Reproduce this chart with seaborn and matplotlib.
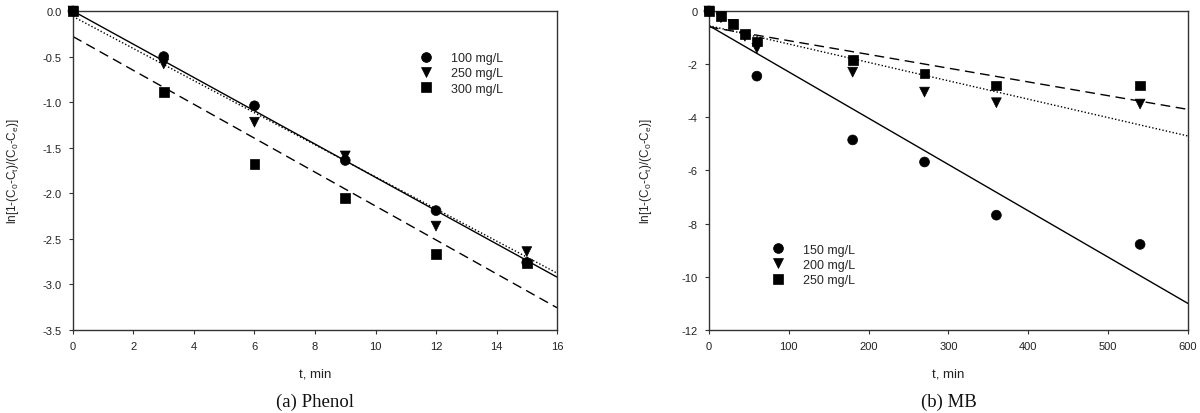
import numpy as np
import pandas as pd
import matplotlib
matplotlib.use("Agg")
import matplotlib.pyplot as plt
import seaborn as sns

# ---------------- data ----------------
# (a) Phenol
phenol_t = [0, 3, 6, 9, 12, 15]
phenol_labels = ["100 mg/L", "250 mg/L", "300 mg/L"]
phenol_100 = [0.0, -0.50, -1.04, -1.64, -2.19, -2.76]
phenol_250 = [0.0, -0.58, -1.22, -1.59, -2.36, -2.64]
phenol_300 = [0.0, -0.89, -1.68, -2.05, -2.67, -2.77]
phenol_intercepts = [0.0, -0.06, -0.28]
phenol_slopes = [-0.1825, -0.176, -0.186]

# (b) MB
mb_labels = ["150 mg/L", "200 mg/L", "250 mg/L"]
mb_t_150 = [0, 60, 180, 270, 360, 540]
mb_150 = [0.0, -2.45, -4.85, -5.68, -7.68, -8.78]
mb_t = [0, 15, 30, 45, 60, 180, 270, 360, 540]
mb_200 = [0.0, -0.25, -0.50, -0.95, -1.40, -2.30, -3.05, -3.45, -3.50]
mb_250 = [0.0, -0.20, -0.50, -0.85, -1.15, -1.85, -2.35, -2.80, -2.80]
mb_intercepts = [-0.55, -0.55, -0.60]
mb_slopes = [-0.01742, -0.00692, -0.00517]

# ---------------- styling ----------------
sns.set_theme(style="ticks")
plt.rcParams["font.family"] = ["Liberation Sans", "DejaVu Sans"]
plt.rcParams["mathtext.default"] = "regular"

markers = {0: "o", 1: "v", 2: "s"}
linestyles = ["-", (0, (1, 1.5)), (0, (7, 4))]

fig = plt.figure(figsize=(12, 4.14), dpi=100)
ax1 = fig.add_axes([0.0608, 0.2005, 0.4034, 0.7705])
ax2 = fig.add_axes([0.5908, 0.2005, 0.3992, 0.7705])

ylab = r"ln[1-(C$_0$-C$_t$)/(C$_0$-C$_e$)]"


def panel(ax, tlist, ylist, labels, intercepts, slopes, xlim, ylim, xticks, yticks,
          yfmt, legend_loc, caption, ylabel_x):
    frames = []
    for i, (tt, yy) in enumerate(zip(tlist, ylist)):
        frames.append(pd.DataFrame({"t": tt, "y": yy, "series": labels[i]}))
    df = pd.concat(frames, ignore_index=True)
    mk = {labels[i]: markers[i] for i in range(3)}
    sns.scatterplot(data=df, x="t", y="y", hue="series", style="series",
                    markers=mk, palette=["black"] * 3, s=50, edgecolor="black",
                    linewidth=0.5, ax=ax, zorder=3, clip_on=False)
    xs = np.array(xlim, dtype=float)
    for i in range(3):
        ax.plot(xs, intercepts[i] + slopes[i] * xs, color="black",
                linestyle=linestyles[i], lw=1.0, zorder=2)
    ax.set_xlim(xlim)
    ax.set_ylim(ylim)
    ax.set_xticks(xticks)
    ax.set_yticks(yticks)
    ax.set_yticklabels([yfmt.format(v) for v in yticks])
    ax.set_xlabel("t, min", fontsize=9.5, labelpad=12, color="#222222")
    ax.set_ylabel(ylab, fontsize=8.5, color="#222222")
    ax.yaxis.set_label_coords(ylabel_x, 0.5)
    ax.tick_params(axis="both", labelsize=8, length=3, width=0.8, direction="out",
                   colors="#333333", labelcolor="#222222", pad=5)
    for sp in ax.spines.values():
        sp.set_visible(True)
        sp.set_linewidth(1.0)
        sp.set_color("#333333")
    ax.legend(loc="upper left", bbox_to_anchor=legend_loc, frameon=False,
              fontsize=9, handletextpad=1.0, labelspacing=0.25,
              markerscale=1.0, borderpad=0, handlelength=2.0)
    ax.text(0.5, -0.225, caption, transform=ax.transAxes, ha="center", va="center",
            fontsize=13.5, color="#111111",
            family=["Liberation Serif", "DejaVu Serif"])


panel(ax1, [phenol_t] * 3, [phenol_100, phenol_250, phenol_300], phenol_labels,
      phenol_intercepts, phenol_slopes, (0, 16), (-3.5, 0.0),
      np.arange(0, 17, 2), np.arange(-3.5, 0.01, 0.5), "{:.1f}",
      (0.69, 0.89), "(a) Phenol", -0.108)

panel(ax2, [mb_t_150, mb_t, mb_t], [mb_150, mb_200, mb_250], mb_labels,
      mb_intercepts, mb_slopes, (0, 600), (-12, 0),
      np.arange(0, 601, 100), np.arange(-12, 0.1, 2), "{:.0f}",
      (0.105, 0.29), "(b) MB", -0.115)

fig.savefig("out.png", dpi=100)
